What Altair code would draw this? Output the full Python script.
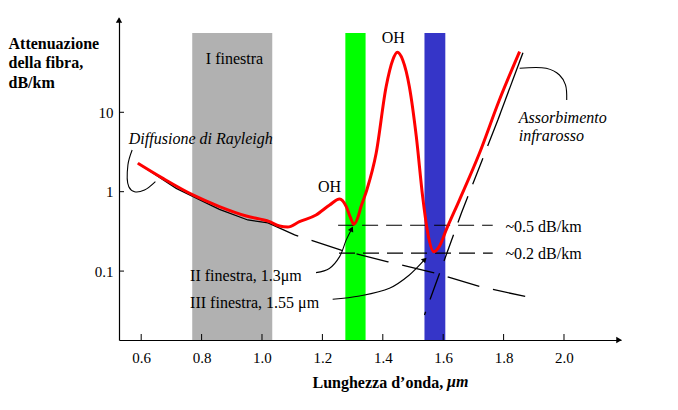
import altair as alt
import pandas as pd

FONT = "Liberation Serif"
W, H = 502, 322
XMIN, XMAX = 0.5265, 0.5265 + 502 / 302
YMIN, YMAX = 0.01355, 154.0

# --- attenuation curve (wavelength um, dB/km)
curve_x = [0.589, 0.672, 0.771, 0.859, 0.948, 1.025, 1.058, 1.085, 1.124, 1.179, 1.224, 1.257,
           1.279, 1.293, 1.304, 1.317, 1.328, 1.347, 1.378, 1.411, 1.433, 1.448, 1.466, 1.488,
           1.511, 1.532, 1.549, 1.569, 1.588, 1.610, 1.654, 1.720, 1.786, 1.853]
curve_y = [2.28, 1.47, 0.91, 0.65, 0.494, 0.419, 0.370, 0.359, 0.419, 0.509, 0.68, 0.81,
           0.65, 0.47, 0.388, 0.47, 0.65, 1.05, 3.05, 21.0, 45.6, 57.0, 45.6, 21.0,
           4.93, 0.865, 0.30, 0.175, 0.207, 0.33, 0.79, 3.05, 14.3, 58.0]

# Rayleigh scattering asymptote
ray_solid_x = [0.589, 0.716, 0.859, 0.953, 1.020]
ray_solid_y = [2.28, 1.10, 0.60, 0.44, 0.405]
ray_dash_x = [1.020, 1.108, 1.262, 1.417, 1.571, 1.727, 1.879]
ray_dash_y = [0.405, 0.285, 0.184, 0.131, 0.0947, 0.063, 0.0472]

# infrared absorption asymptote
ir_solid_x = [1.864, 1.781]
ir_solid_y = [56.3, 8.0]
ir_dash_x = [1.781, 1.660, 1.538]
ir_dash_y = [8.0, 0.535, 0.028]

# horizontal reference levels
lvl_x1 = [1.252, 1.255]
lvl_x2 = [1.764, 1.764]
lvl_y = [0.378, 0.168]
lvl_text = ["~0.5 dB/km", "~0.2 dB/km"]
lvl_text_y = [0.313, 0.141]
lvl_text_x = 1.806

# transmission windows
band_x1 = [0.769, 1.276, 1.538]
band_x2 = [1.034, 1.343, 1.607]
band_col = ["#B1B1B1", "#00FF00", "#3535C8"]
band_top = 100.0

# connector lines
ray_br_x = [0.570, 0.556, 0.559, 0.578, 0.611, 0.647]
ray_br_y = [3.35, 2.17, 1.156, 1.0, 1.05, 1.34]
ir_br_x = [1.853, 1.941, 1.985, 2.005, 2.009]
ir_br_y = [35.8, 35.8, 29.5, 22.1, 14.3]
a2_x = [1.179, 1.223, 1.257, 1.279, 1.297]
a2_y = [0.0955, 0.108, 0.152, 0.247, 0.340]
a3_x = [1.234, 1.323, 1.422, 1.488, 1.539]
a3_y = [0.0441, 0.0486, 0.0607, 0.0893, 0.140]
head_x = [1.297, 1.539]
head_y = [0.340, 0.140]
head_ang = [26, 44]

# texts
labels_plain = ["I finestra", "OH", "OH", "II finestra, 1.3μm", "III finestra, 1.55 μm"]
labels_plain_x = [0.909, 1.2235, 1.435, 0.762, 0.762]
labels_plain_y = [40.6, 0.99, 74.0, 0.075, 0.034]
labels_plain_align = ["center", "center", "center", "left", "left"]
labels_it = ["Diffusione di Rayleigh", "Assorbimento", "infrarosso"]
labels_it_x = [0.559, 1.850, 1.850]
labels_it_y = [3.98, 7.39, 4.39]

x_ticks = [0.6, 0.8, 1.0, 1.2, 1.4, 1.6, 1.8, 2.0]
y_ticks = [0.1, 1, 10]
x_title = "Lunghezza d’onda, "
x_title_unit = "μm"

xs = alt.Scale(domain=[XMIN, XMAX], nice=False, zero=False)
ys = alt.Scale(type="log", domain=[YMIN, YMAX], nice=False)
ax_x = alt.Axis(values=x_ticks, format=".1f", ticks=False, grid=False, labelPadding=10,
                labelFont=FONT, labelFontSize=15, labelColor="black", domainColor="black",
                domainWidth=1.2, title=x_title, titleFont=FONT, titleFontSize=16,
                titleFontWeight="bold", titleColor="black", titleX=193, titleY=47,
                titleAlign="left", titleBaseline="alphabetic")
ax_y = alt.Axis(values=y_ticks, format="~g", ticks=False, grid=False, labelPadding=6,
                labelFont=FONT, labelFontSize=15, labelColor="black", domainColor="black",
                domainWidth=1.2, title=["Attenuazione", "della fibra,", "dB/km"], titleAngle=0,
                titleAlign="left", titleBaseline="alphabetic", titleX=-111, titleY=30,
                titleFont=FONT, titleFontSize=16, titleFontWeight="bold", titleColor="black",
                titleLineHeight=19.5)
X = alt.X("x:Q", scale=xs, axis=ax_x)
Y = alt.Y("y:Q", scale=ys, axis=ax_y)


def line_df(xv, yv):
    return pd.DataFrame({"x": xv, "y": yv, "i": list(range(len(xv)))})


bands = alt.Chart(pd.DataFrame({"x": band_x1, "x2": band_x2, "y": [band_top] * 3,
                                "y2": [YMIN] * 3, "c": band_col})).mark_rect().encode(
    x=X, x2="x2:Q", y=Y, y2="y2:Q", color=alt.Color("c:N", scale=None))

def bline(xv, yv, dash=None, width=1.3, interp="linear", color="black"):
    kw = dict(color=color, strokeWidth=width, interpolate=interp)
    if dash:
        kw["strokeDash"] = dash
    return alt.Chart(line_df(xv, yv)).mark_line(**kw).encode(x=X, y=Y, order="i:Q")

ray_s = bline(ray_solid_x, ray_solid_y)
ray_d = bline(ray_dash_x, ray_dash_y, dash=[33, 14])
ir_s = bline(ir_solid_x, ir_solid_y)
ir_d = bline(ir_dash_x, ir_dash_y, dash=[28, 13])

levels = alt.Chart(pd.DataFrame({"x": lvl_x1, "x2": lvl_x2, "y": lvl_y})).mark_rule(
    color="black", strokeWidth=1.2, strokeDash=[16, 8]).encode(x=X, x2="x2:Q", y=Y)

red = bline(curve_x, curve_y, width=3, interp="monotone", color="#FF0000")

ray_br = bline(ray_br_x, ray_br_y, width=1.1, interp="catmull-rom")
ir_br = bline(ir_br_x, ir_br_y, width=1.1, interp="catmull-rom")
a2 = bline(a2_x, a2_y, width=1.1, interp="catmull-rom")
a3 = bline(a3_x, a3_y, width=1.1, interp="catmull-rom")
heads = alt.Chart(pd.DataFrame({"x": head_x, "y": head_y, "a": head_ang})).mark_point(
    shape="triangle-up", filled=True, color="black", size=35, opacity=1).encode(
    x=X, y=Y, angle=alt.Angle("a:Q", scale=None))

plain_df = pd.DataFrame({"x": labels_plain_x, "y": labels_plain_y,
                         "t": labels_plain, "al": labels_plain_align})
txt_plain = alt.Chart(plain_df).transform_filter("datum.al == 'center'").mark_text(
    font=FONT, fontSize=16, color="black", align="center", baseline="alphabetic").encode(
    x=X, y=Y, text="t:N")
txt_left = alt.Chart(plain_df).transform_filter("datum.al == 'left'").mark_text(
    font=FONT, fontSize=16, color="black", align="left", baseline="alphabetic").encode(
    x=X, y=Y, text="t:N")
txt_lvl = alt.Chart(pd.DataFrame({"x": [lvl_text_x] * 2, "y": lvl_text_y, "t": lvl_text})).mark_text(
    font=FONT, fontSize=16, color="black", align="left", baseline="alphabetic").encode(
    x=X, y=Y, text="t:N")
txt_it = alt.Chart(pd.DataFrame({"x": labels_it_x, "y": labels_it_y, "t": labels_it})).mark_text(
    font=FONT, fontSize=16, fontStyle="italic", color="black", align="left",
    baseline="alphabetic").encode(x=X, y=Y, text="t:N")
unit_txt = alt.Chart(pd.DataFrame({"t": [x_title_unit]})).mark_text(
    font=FONT, fontSize=16, fontStyle="italic", fontWeight="bold", color="black",
    align="left", baseline="alphabetic").encode(
    x=alt.value(328), y=alt.value(H + 47), text="t:N")

xtick = alt.Chart(pd.DataFrame({"x": x_ticks})).mark_rule(color="black", strokeWidth=1).encode(
    x=X, y=alt.value(H), y2=alt.value(H - 6))
ytick = alt.Chart(pd.DataFrame({"y": y_ticks})).mark_rule(color="black", strokeWidth=1).encode(
    y=Y, x=alt.value(0), x2=alt.value(5))
yarrow = alt.Chart(pd.DataFrame({"k": [0]})).mark_point(
    shape="triangle-up", filled=True, color="black", size=40, opacity=1).encode(
    x=alt.value(0), y=alt.value(2))
xarrow = alt.Chart(pd.DataFrame({"k": [0]})).mark_point(
    shape="triangle-right", filled=True, color="black", size=40, opacity=1).encode(
    x=alt.value(W - 2), y=alt.value(H))

chart = alt.layer(
    bands, ray_s, ray_d, ir_s, ir_d, levels, red, ray_br, ir_br, a2, a3, heads,
    txt_plain, txt_left, txt_lvl, txt_it, unit_txt, xtick, ytick, yarrow, xarrow
).properties(
    width=W, height=H,
    autosize=alt.AutoSizeParams(type="none"),
    padding={"left": 111, "top": 10, "right": 30, "bottom": 58},
    background="white",
).configure_view(stroke=None)

chart.save("out.html", embed_options={"renderer": "svg", "actions": False})
